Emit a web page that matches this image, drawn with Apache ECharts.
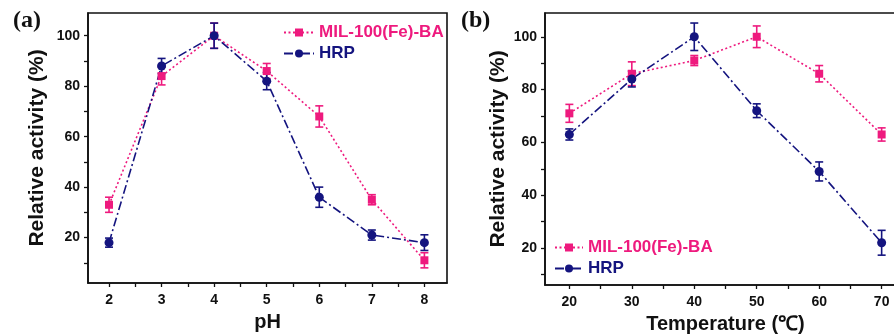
<!DOCTYPE html>
<html>
<head>
<meta charset="utf-8">
<script src="https://cdn.jsdelivr.net/npm/echarts@6/dist/echarts.min.js"></script>
<style>
html, body { margin: 0; padding: 0; background: #fff; }
#main { width: 894px; height: 335px; }
</style>
</head>
<body>
<div id="main"></div>
<script>
// (a) pH
var phList = [2, 3, 4, 5, 6, 7, 8];
var phMil = [33, 84, 100, 86, 68, 35, 11];
var phMilErr = [3, 3.5, 5, 3, 4.2, 2, 3];
var phHrp = [18, 88, 100, 82, 36, 21, 18];
var phHrpErr = [1.8, 3, 5, 3.4, 4, 2, 3.1];

// (b) temperature
var tempList = [20, 30, 40, 50, 60, 70];
var tempMil = [71, 86, 91, 100, 86, 63];
var tempMilErr = [3.4, 4.5, 1.9, 4.1, 3.1, 2.5];
var tempHrp = [63, 84, 100, 72, 49, 22];
var tempHrpErr = [2.1, 3, 5.2, 2.6, 3.6, 4.7];

var yLabels = [20, 40, 60, 80, 100];
var yTicks = [10, 20, 30, 40, 50, 60, 70, 80, 90, 100];
var phTicks = [2, 2.5, 3, 3.5, 4, 4.5, 5, 5.5, 6, 6.5, 7, 7.5, 8];
var tempTicks = [20, 25, 30, 35, 40, 45, 50, 55, 60, 65, 70];

var PINK = '#ee1a7e';
var NAVY = '#14147f';
var FONT = 'Liberation Sans';

function pairs(xs, ys) {
    return xs.map(function (x, i) { return [x, ys[i]]; });
}
function errData(xs, ys, es) {
    return xs.map(function (x, i) { return [x, ys[i] - es[i], ys[i] + es[i]]; });
}
function errSeries(idx, xs, ys, es, color) {
    return {
        type: 'custom',
        xAxisIndex: idx,
        yAxisIndex: idx,
        data: errData(xs, ys, es),
        z: 3,
        silent: true,
        renderItem: function (params, api) {
            var lo = api.coord([api.value(0), api.value(1)]);
            var hi = api.coord([api.value(0), api.value(2)]);
            var w = 4;
            var st = { stroke: color, lineWidth: 1.6 };
            return {
                type: 'group',
                children: [
                    { type: 'line', shape: { x1: lo[0], y1: lo[1], x2: hi[0], y2: hi[1] }, style: st },
                    { type: 'line', shape: { x1: lo[0] - w, y1: lo[1], x2: lo[0] + w, y2: lo[1] }, style: st },
                    { type: 'line', shape: { x1: hi[0] - w, y1: hi[1], x2: hi[0] + w, y2: hi[1] }, style: st }
                ]
            };
        }
    };
}

function xAxis(idx, min, max, ticks, labels, name) {
    return {
        type: 'value', gridIndex: idx, min: min, max: max,
        name: name, nameLocation: 'middle', nameGap: 29,
        nameTextStyle: { fontFamily: FONT, fontSize: 20, fontWeight: 'bold', color: '#111' },
        axisLine: { lineStyle: { color: '#111', width: 1.6 } },
        axisTick: { customValues: ticks, length: 4, lineStyle: { color: '#111', width: 1.3 } },
        axisLabel: { customValues: labels, margin: 10, fontFamily: FONT, fontSize: 14, fontWeight: 'bold', color: '#111' },
        splitLine: { show: false }
    };
}
function yAxis(idx, min, max, gap) {
    return {
        type: 'value', gridIndex: idx, min: min, max: max,
        name: 'Relative activity (%)', nameLocation: 'middle', nameGap: gap,
        nameTextStyle: { fontFamily: FONT, fontSize: 21, fontWeight: 'bold', color: '#111' },
        axisLine: { lineStyle: { color: '#111', width: 1.6 } },
        axisTick: { customValues: yTicks, length: 4, lineStyle: { color: '#111', width: 1.3 } },
        axisLabel: { customValues: yLabels, margin: 8, fontFamily: FONT, fontSize: 14, fontWeight: 'bold', color: '#111' },
        splitLine: { show: false }
    };
}
function lineSeries(idx, name, xs, ys, color, dash, symbol, size) {
    return {
        type: 'line', name: name, xAxisIndex: idx, yAxisIndex: idx,
        data: pairs(xs, ys),
        symbol: symbol, symbolSize: size,
        itemStyle: { color: color },
        lineStyle: { color: color, width: 1.6, type: dash },
        z: 4
    };
}
function legendItems(suffix) {
    return [
        { name: 'MIL-100(Fe)-BA' + suffix, textStyle: { color: PINK } },
        { name: 'HRP' + suffix, textStyle: { color: NAVY } }
    ];
}

var chart = echarts.init(document.getElementById('main'));
chart.setOption({
    animation: false,
    backgroundColor: '#fff',
    title: [
        { text: '(a)', left: 8, top: 4, textStyle: { fontFamily: 'Liberation Serif', fontSize: 24, fontWeight: 'bold', color: '#111' } },
        { text: '(b)', left: 456, top: 4, textStyle: { fontFamily: 'Liberation Serif', fontSize: 24, fontWeight: 'bold', color: '#111' } }
    ],
    grid: [
        { left: 88, right: 447, top: 13, bottom: 52, outerBoundsMode: 'none', show: true, borderColor: '#111', borderWidth: 1.6 },
        { left: 545, right: -12, top: 13, bottom: 50, outerBoundsMode: 'none', show: true, borderColor: '#111', borderWidth: 1.6 }
    ],
    legend: [
        {
            left: 278, top: 19, orient: 'vertical', itemGap: 4, itemWidth: 30, itemHeight: 10,
            data: legendItems(''),
            textStyle: { fontFamily: FONT, fontSize: 17, fontWeight: 'bold' },
            selectedMode: false
        },
        {
            left: 549, top: 234, orient: 'vertical', itemGap: 4, itemWidth: 28, itemHeight: 10,
            data: legendItems(' '),
            textStyle: { fontFamily: FONT, fontSize: 17, fontWeight: 'bold' },
            selectedMode: false
        }
    ],
    xAxis: [
        xAxis(0, 1.6, 8.43, phTicks, phList, 'pH'),
        xAxis(1, 16.1, 73.9, tempTicks, tempList, 'Temperature (\u2103)')
    ],
    yAxis: [
        yAxis(0, 2, 109, 40),
        yAxis(1, 6, 109, 36)
    ],
    series: [
        errSeries(0, phList, phMil, phMilErr, PINK),
        errSeries(0, phList, phHrp, phHrpErr, NAVY),
        lineSeries(0, 'MIL-100(Fe)-BA', phList, phMil, PINK, [2, 2.5], 'rect', 8),
        lineSeries(0, 'HRP', phList, phHrp, NAVY, [9, 3, 2, 3], 'circle', 9),
        errSeries(1, tempList, tempMil, tempMilErr, PINK),
        errSeries(1, tempList, tempHrp, tempHrpErr, NAVY),
        lineSeries(1, 'MIL-100(Fe)-BA ', tempList, tempMil, PINK, [2, 2.5], 'rect', 8),
        lineSeries(1, 'HRP ', tempList, tempHrp, NAVY, [9, 3, 2, 3], 'circle', 9)
    ]
});
</script>
</body>
</html>
